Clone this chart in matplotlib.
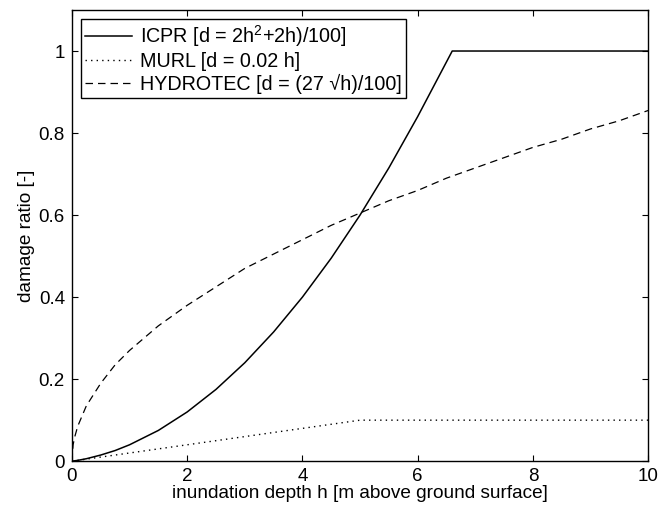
import matplotlib
matplotlib.use("Agg")
import matplotlib.pyplot as plt

plt.rcParams['font.family'] = ['Liberation Sans', 'DejaVu Sans']
plt.rcParams['mathtext.fontset'] = 'custom'
plt.rcParams['mathtext.rm'] = 'Liberation Sans'
plt.rcParams['mathtext.it'] = 'Liberation Sans'

# depth values [m] and damage ratios
h_icpr = [0, 0.1, 0.25, 0.5, 0.75, 1, 1.5, 2, 2.5, 3, 3.5, 4, 4.5, 5, 5.5, 6, 6.6, 7, 8, 9, 10]
d_icpr = [0, 0.002, 0.006, 0.015, 0.026, 0.04, 0.075, 0.12, 0.175, 0.24, 0.315, 0.40, 0.495,
          0.60, 0.715, 0.84, 1.0, 1.0, 1.0, 1.0, 1.0]

h_murl = [0, 1, 2, 3, 4, 5, 6, 7, 8, 9, 10]
d_murl = [0, 0.02, 0.04, 0.06, 0.08, 0.10, 0.10, 0.10, 0.10, 0.10, 0.10]

h_hydro = [0, 0.02, 0.05, 0.1, 0.25, 0.5, 0.75, 1, 1.5, 2, 2.5, 3, 3.5, 4, 4.5, 5, 5.5, 6,
           6.5, 7, 7.5, 8, 8.5, 9, 9.5, 10]
d_hydro = [0, 0.04, 0.06, 0.085, 0.135, 0.19, 0.235, 0.27, 0.33, 0.38, 0.425, 0.47, 0.505,
           0.54, 0.575, 0.605, 0.635, 0.66, 0.69, 0.715, 0.74, 0.765, 0.785, 0.81, 0.83, 0.855]

fig = plt.figure(figsize=(6.6, 5.13), dpi=100)
ax = fig.add_axes([0.109, 0.101, 0.873, 0.8795])

ax.plot(h_icpr, d_icpr, color='black', linestyle='-', linewidth=1.1,
        label='ICPR [d = 2h$^2$+2h)/100]')
ax.plot(h_murl, d_murl, color='black', linestyle=(0, (1, 3)), linewidth=1.0,
        label='MURL [d = 0.02 h]')
ax.plot(h_hydro, d_hydro, color='black', linestyle=(0, (6, 4)), linewidth=0.9,
        label='HYDROTEC [d = (27 \u221ah)/100]')

ax.set_xlim(0, 10)
ax.set_ylim(0, 1.1)
ax.set_xticks([0, 2, 4, 6, 8, 10])
ax.set_yticks([0, 0.2, 0.4, 0.6, 0.8, 1])
ax.set_yticklabels(['0', '0.2', '0.4', '0.6', '0.8', '1'])
ax.tick_params(direction='in', top=True, right=True, labelsize=13.5, length=4, width=0.8, pad=5)
for s in ax.spines.values():
    s.set_linewidth(1.0)

ax.set_xlabel('inundation depth h [m above ground surface]', fontsize=13.7, labelpad=0)
ax.set_ylabel('damage ratio [-]', fontsize=13.7, labelpad=3)

leg = ax.legend(loc='upper left', fontsize=14.2, fancybox=False, edgecolor='black',
                framealpha=1, handlelength=2.4, borderpad=0.2, labelspacing=0.15,
                borderaxespad=0.45, handletextpad=0.4)
leg.get_frame().set_linewidth(1.0)

fig.savefig('out.png', dpi=100)
